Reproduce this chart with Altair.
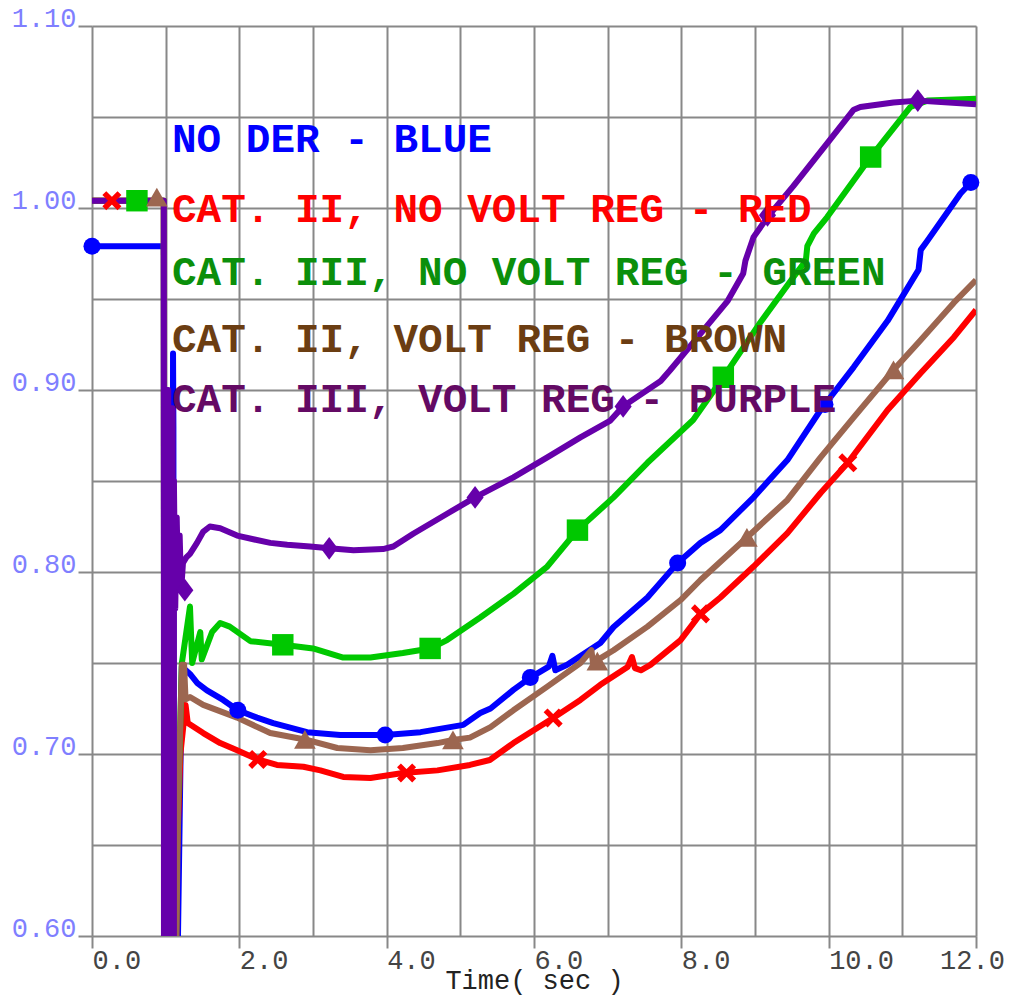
import altair as alt
import pandas as pd

# ---------------- data ----------------
LEGEND_TEXT = ["NO DER - BLUE", "CAT. II, NO VOLT REG - RED",
               "CAT. III, NO VOLT REG - GREEN", "CAT. II, VOLT REG - BROWN",
               "CAT. III, VOLT REG - PURPLE"]

BLUE_T = [0.0, 0.975, 0.98, 1.09, 1.10, 1.105, 1.11, 1.16, 1.22, 1.33, 1.43, 1.56, 1.78,
          1.98, 2.24, 2.46, 2.92, 3.37, 3.98, 4.46, 5.04, 5.27, 5.41, 5.72, 5.95,
          6.20, 6.25, 6.29, 6.45, 6.90, 7.08, 7.54, 7.95, 8.26, 8.53, 8.98, 9.44,
          9.89, 10.34, 10.80, 11.22, 11.25, 11.34, 11.79, 11.93]
BLUE_V = [0.979, 0.979, 0.55, 0.55, 0.92, 0.88, 0.55, 0.58, 0.748, 0.744, 0.739, 0.735, 0.7297,
          0.724, 0.720, 0.717, 0.712, 0.7104, 0.7104, 0.712, 0.716, 0.7225, 0.725, 0.7352, 0.742,
          0.748, 0.754, 0.746, 0.749, 0.761, 0.7698, 0.786, 0.805, 0.816, 0.823, 0.841, 0.8615,
          0.889, 0.9126, 0.938, 0.966, 0.977, 0.982, 1.008, 1.014]

RED_T = [0.0, 0.975, 0.98, 1.13, 1.155, 1.20, 1.27, 1.30, 1.51, 1.74, 1.97, 2.25, 2.51,
         2.87, 3.10, 3.41, 3.78, 4.22, 4.69, 5.13, 5.40, 5.72, 6.26, 6.63, 6.90, 7.27,
         7.33, 7.37, 7.45, 7.58, 7.99, 8.26, 8.53, 8.98, 9.44, 9.89, 10.26, 10.80,
         11.25, 11.70, 12.0]
RED_V = [1.004, 1.004, 0.55, 0.55, 0.645, 0.70, 0.727, 0.717, 0.7115, 0.706, 0.702, 0.697, 0.694,
         0.693, 0.691, 0.6874, 0.6868, 0.6896, 0.691, 0.694, 0.6967, 0.706, 0.7198, 0.7297, 0.738, 0.7478,
         0.7533, 0.7472, 0.746, 0.749, 0.7626, 0.777, 0.786, 0.803, 0.8214, 0.8434, 0.860, 0.889,
         0.9093, 0.929, 0.944]

GREEN_T = [0.0, 0.975, 0.98, 1.13, 1.15, 1.22, 1.33, 1.36, 1.47, 1.49, 1.63, 1.74, 1.87,
           2.15, 2.59, 3.00, 3.41, 3.78, 4.22, 4.59, 4.82, 5.27, 5.72, 6.18, 6.59, 7.08,
           7.54, 8.16, 8.57, 9.07, 9.52, 9.69, 9.71, 9.80, 9.98, 10.57, 11.11, 11.34, 12.0]
GREEN_V = [1.004, 1.004, 0.55, 0.55, 0.645, 0.75, 0.781, 0.75, 0.767, 0.752, 0.767, 0.772, 0.770,
           0.762, 0.760, 0.758, 0.753, 0.753, 0.7555, 0.758, 0.7626, 0.775, 0.788, 0.803, 0.823, 0.841,
           0.860, 0.8835, 0.907, 0.937, 0.962, 0.971, 0.979, 0.986, 0.995, 1.028, 1.0555, 1.059, 1.060]

BROWN_T = [0.0, 0.975, 0.98, 1.13, 1.17, 1.22, 1.25, 1.27, 1.33, 1.51, 1.97, 2.42, 2.89,
           3.33, 3.78, 4.22, 4.69, 4.90, 5.13, 5.41, 5.72, 6.18, 6.63, 6.78, 6.80, 6.86,
           7.08, 7.54, 7.99, 8.26, 8.89, 9.44, 9.89, 10.34, 10.88, 11.25, 11.70, 12.0]
BROWN_V = [1.004, 1.004, 0.55, 0.55, 0.675, 0.749, 0.749, 0.73, 0.7313, 0.727, 0.720, 0.7115, 0.708,
           0.7033, 0.702, 0.7033, 0.706, 0.7077, 0.709, 0.7148, 0.724, 0.737, 0.750, 0.757, 0.750, 0.7516,
           0.757, 0.770, 0.7846, 0.7956, 0.819, 0.8396, 0.863, 0.885, 0.911, 0.9275, 0.948, 0.9604]

PURPLE_T = [0.0, 0.975, 0.977, 1.005, 1.005, 1.035, 1.035, 1.065, 1.065, 1.095, 1.095, 1.112,
            1.112, 1.13, 1.15, 1.17, 1.19, 1.21, 1.235, 1.28, 1.33, 1.425, 1.507, 1.60, 1.74,
            1.97, 2.19, 2.42, 2.65, 2.96, 3.22, 3.55, 3.95, 4.09, 4.36, 4.82, 5.20, 5.72,
            6.18, 6.63, 7.03, 7.21, 7.72, 7.85, 8.16, 8.63, 8.84, 8.87, 8.98, 9.17, 9.52,
            9.99, 10.34, 10.43, 10.88, 11.21, 12.0]
PURPLE_V = [1.004, 1.004, 0.55, 0.55, 0.90, 0.90, 0.55, 0.55, 0.89, 0.89, 0.55, 0.55,
            0.85, 0.78, 0.83, 0.79, 0.82, 0.79, 0.805, 0.808, 0.810, 0.816, 0.822, 0.825, 0.824,
            0.820, 0.818, 0.816, 0.815, 0.814, 0.813, 0.812, 0.8126, 0.814, 0.821, 0.832, 0.841, 0.852,
            0.863, 0.874, 0.883, 0.891, 0.905, 0.911, 0.926, 0.949, 0.964, 0.971, 0.984, 0.995, 1.012,
            1.036, 1.054, 1.0555, 1.058, 1.059, 1.057]

# marker points
BLUE_MT = [0.0, 1.98, 3.98, 5.95, 7.95, 9.95, 11.93]
BLUE_MV = [0.979, 0.724, 0.7104, 0.742, 0.805, 0.892, 1.014]
RED_MT = [0.27, 2.25, 4.27, 6.26, 8.26, 10.26]
RED_MV = [1.004, 0.697, 0.6896, 0.7198, 0.777, 0.860]
GREEN_MT = [0.61, 2.59, 4.59, 6.59, 8.57, 10.57]
GREEN_MV = [1.004, 0.760, 0.758, 0.823, 0.907, 1.028]
BROWN_MT = [0.88, 2.89, 4.90, 6.86, 8.89, 10.88]
BROWN_MV = [1.006, 0.708, 0.7077, 0.751, 0.819, 0.911]
PURPLE_MT = [1.26, 3.22, 5.20, 7.21, 9.17, 11.21]
PURPLE_MV = [0.79, 0.813, 0.841, 0.891, 0.996, 1.059]

X_TICKS = [0, 1, 2, 3, 4, 5, 6, 7, 8, 9, 10, 11, 12]
Y_TICKS = [0.60, 0.65, 0.70, 0.75, 0.80, 0.85, 0.90, 0.95, 1.00, 1.05, 1.10]

# ---------------- styles ----------------
LINE_COLORS = ["#0000ff", "#ff0000", "#00c800", "#9c6650", "#6600aa"]
TEXT_COLORS = ["#0000ff", "#ff0000", "#0b8f0b", "#6b3d12", "#640a64"]
FONT = "Liberation Mono"
GRID = "#888888"

lines = [(BLUE_T, BLUE_V), (RED_T, RED_V), (GREEN_T, GREEN_V),
         (BROWN_T, BROWN_V), (PURPLE_T, PURPLE_V)]
marks = [(BLUE_MT, BLUE_MV), (RED_MT, RED_MV), (GREEN_MT, GREEN_MV),
         (BROWN_MT, BROWN_MV), (PURPLE_MT, PURPLE_MV)]

x_axis = alt.Axis(
    values=X_TICKS, grid=True, gridColor=GRID, gridWidth=2, domain=False,
    ticks=True, tickSize=12, tickColor=GRID, tickWidth=2,
    tickOpacity={"condition": {"test": "datum.value % 2 === 0", "value": 1}, "value": 0},
    labelExpr="datum.value % 2 === 0 ? format(datum.value, '.1f') : ''",
    labelAlign={"condition": {"test": "datum.value === 12", "value": "center"}, "value": "left"},
    labelOffset={"condition": {"test": "datum.value === 12", "value": -4}, "value": 0},
    labelFlush=False, labelOverlap=False, labelPadding=-1,
    labelFont=FONT, labelFontSize=27, labelColor="#444444",
    title="Time( sec )", titleFont=FONT, titleFontSize=27, titleFontWeight="normal",
    titleColor="#222222", titlePadding=-6,
)
y_axis = alt.Axis(
    values=Y_TICKS, grid=True, gridColor=GRID, gridWidth=2, domain=False,
    ticks=True, tickSize=14, tickColor=GRID, tickWidth=2,
    tickOpacity={"condition": {"test": "round(datum.value * 100) % 10 === 0", "value": 1}, "value": 0},
    labelExpr="round(datum.value * 100) % 10 === 0 ? format(datum.value, '.2f') : ''",
    labelBaseline="alphabetic", labelOverlap=False, labelPadding=2,
    labelFont=FONT, labelFontSize=27, labelColor="#7f7fff", title=None,
)
xs = alt.Scale(domain=[0, 12], nice=False, zero=False)
ys = alt.Scale(domain=[0.6, 1.1], nice=False, zero=False)


def X():
    return alt.X("t:Q", scale=xs, axis=x_axis)


def Y():
    return alt.Y("v:Q", scale=ys, axis=y_axis)


layers = []
for (tt, vv), c in zip(lines, LINE_COLORS):
    df = pd.DataFrame({"t": tt, "v": vv, "i": list(range(len(tt)))})
    layers.append(
        alt.Chart(df).mark_line(clip=True, strokeWidth=6, strokeJoin="round")
        .encode(x=X(), y=Y(), order="i:Q", color=alt.value(c))
    )

marker_styles = [
    dict(shape="circle", filled=True, size=290),
    dict(shape="M-1,-1L1,1M-1,1L1,-1", filled=False, strokeWidth=5.5, size=230),
    dict(shape="square", filled=True, size=460),
    dict(shape="triangle-up", filled=True, size=470),
    dict(shape="M0,-1L0.75,0L0,1L-0.75,0Z", filled=True, size=520),
]
for (tt, vv), c, st in zip(marks, LINE_COLORS, marker_styles):
    df = pd.DataFrame({"t": tt, "v": vv})
    layers.append(
        alt.Chart(df).mark_point(opacity=1, **st)
        .encode(x=X(), y=Y(), color=alt.value(c))
    )

LEGEND_BASE = [126, 196, 259, 326, 386]
for txt, c, yb in zip(LEGEND_TEXT, TEXT_COLORS, LEGEND_BASE):
    df = pd.DataFrame({"label": [txt]})
    layers.append(
        alt.Chart(df).mark_text(align="left", baseline="alphabetic", font=FONT,
                                fontSize=41, fontWeight="bold", color=c)
        .encode(x=alt.value(80), y=alt.value(yb), text="label:N")
    )

chart = (
    alt.layer(*layers)
    .properties(width=884, height=910,
                autosize=alt.AutoSizeParams(type="none"),
                padding={"left": 84, "top": 18, "right": 28, "bottom": 59})
    .configure_view(fill="#ebebeb", strokeWidth=0)
    .configure(background="white")
)

chart.save("out.html", embed_options={"renderer": "svg", "actions": False})
